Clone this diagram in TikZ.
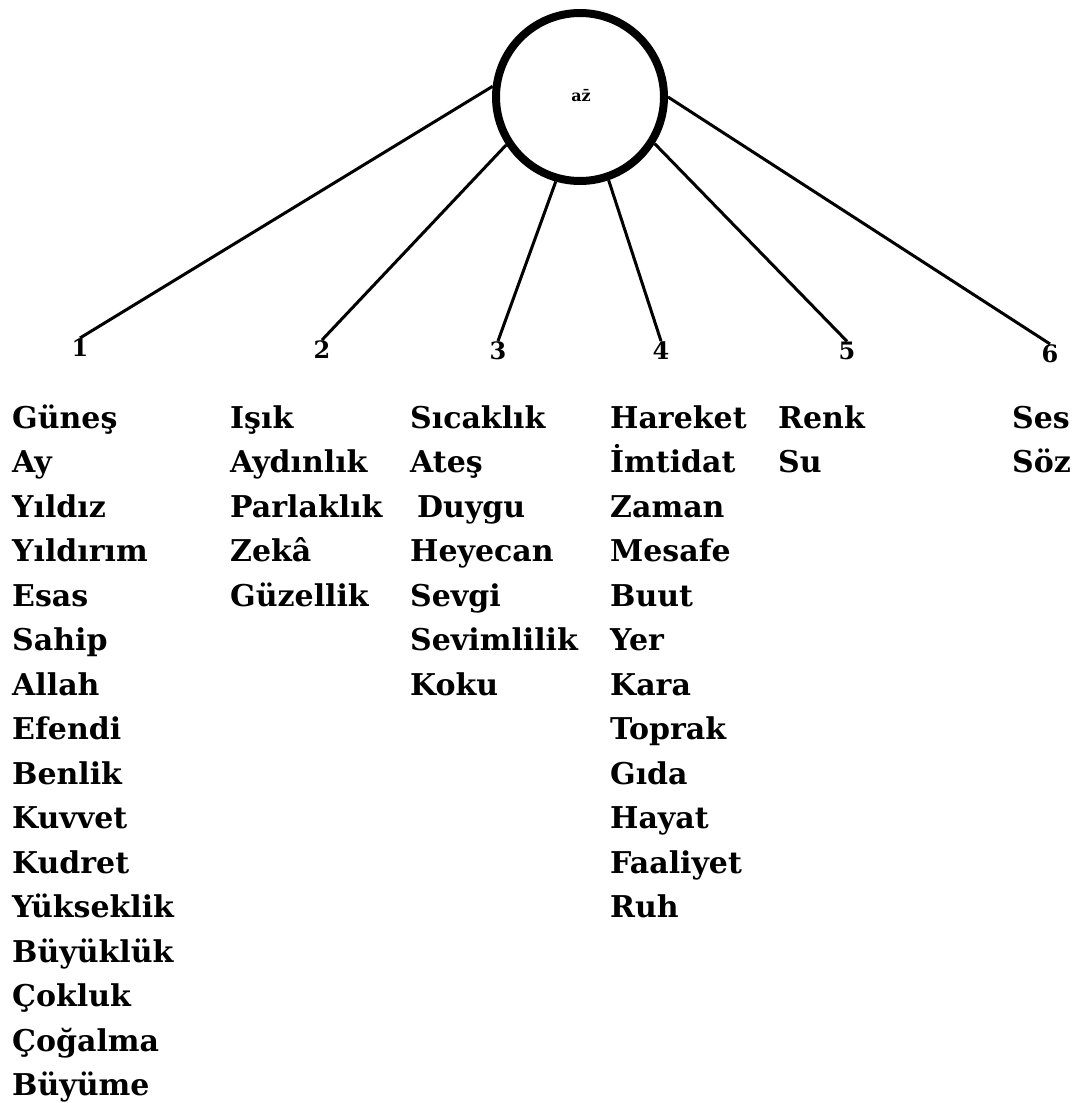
\documentclass[tikz,border=0pt]{standalone}
\usepackage{fontspec}
\setmainfont{DejaVu Serif}
\begin{document}
\begin{tikzpicture}[x=1pt,y=-1pt,
  word/.style={anchor=base west,inner sep=0pt,font=\fontsize{30}{30}\selectfont\bfseries},
  digit/.style={anchor=base,inner sep=0pt,font=\fontsize{24}{24}\selectfont\bfseries},
  link/.style={line width=3pt}]
\useasboundingbox (0,0) rectangle (1074,1103);
\node[circle,draw,line width=8pt,minimum size=168pt,inner sep=0pt] (hub) at (580,97) {};
\node[inner sep=0pt,font=\fontsize{16}{16}\selectfont\bfseries] (hublabel) at (581,96) {a\={z}};
% digits
\node[digit] (n1) at (80,356) {1};
\node[digit] (n2) at (322,358) {2};
\node[digit] (n3) at (498,359) {3};
\node[digit] (n4) at (661,359) {4};
\node[digit] (n5) at (847,359) {5};
\node[digit] (n6) at (1050,362) {6};
% connectors
\draw[link] (hub.173) -- (n1.north);
\draw[link] (hub.213) -- (n2.north);
\draw[link] (hub.254) -- (n3.north);
\draw[link] (hub.289) -- (n4.north);
\draw[link] (hub.328) -- (n5.north);
\draw[link] (hub.0) -- (n6.north);
% columns
\foreach \t [count=\i] in {Güneş,Ay,Yıldız,Yıldırım,Esas,Sahip,Allah,Efendi,Benlik,Kuvvet,Kudret,Yükseklik,Büyüklük,Çokluk,Çoğalma,Büyüme}
  \node[word] (a\i) at (12,{428+44.5*(\i-1)}) {\t};
\foreach \t [count=\i] in {Işık,Aydınlık,Parlaklık,Zekâ,Güzellik}
  \node[word] (b\i) at (230,{428+44.5*(\i-1)}) {\t};
\foreach \t [count=\i] in {Sıcaklık,Ateş,Duygu,Heyecan,Sevgi,Sevimlilik,Koku}
  \node[word] (c\i) at ({\i==3 ? 417 : 410},{428+44.5*(\i-1)}) {\t};
\foreach \t [count=\i] in {Hareket,İmtidat,Zaman,Mesafe,Buut,Yer,Kara,Toprak,Gıda,Hayat,Faaliyet,Ruh}
  \node[word] (d\i) at (610,{428+44.5*(\i-1)}) {\t};
\foreach \t [count=\i] in {Renk,Su}
  \node[word] (e\i) at (778,{428+44.5*(\i-1)}) {\t};
\foreach \t [count=\i] in {Ses,Söz}
  \node[word] (f\i) at (1012,{428+44.5*(\i-1)}) {\t};
\end{tikzpicture}
\end{document}
